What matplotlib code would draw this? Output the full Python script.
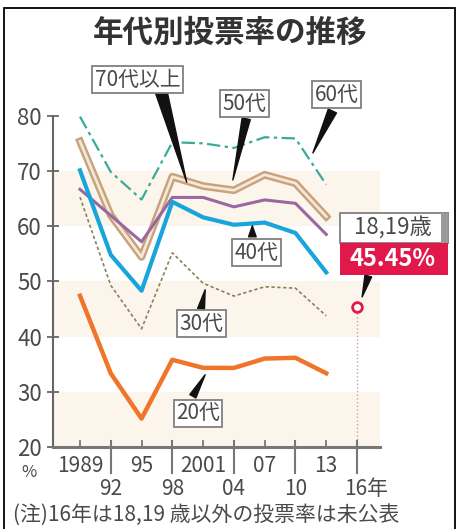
import matplotlib
matplotlib.use("Agg")
import matplotlib.pyplot as plt
from matplotlib.patches import Rectangle

plt.rcParams["font.family"] = ["Noto Sans CJK JP", "DejaVu Sans"]

# 参院選の年代別投票率 (%)
years = [1989, 1992, 1995, 1998, 2001, 2004, 2007, 2010, 2013]
rate_60s = [79.89, 69.87, 64.86, 75.24, 75.05, 74.21, 76.15, 75.93, 67.56]
rate_50s = [75.40, 62.00, 54.45, 69.00, 67.30, 66.54, 69.35, 67.81, 61.77]
rate_70plus = [66.71, 61.96, 57.20, 65.24, 65.24, 63.53, 64.79, 64.17, 58.54]
rate_40s = [70.15, 54.83, 48.32, 64.44, 61.63, 60.28, 60.68, 58.80, 51.66]
rate_30s = [65.29, 49.30, 41.43, 55.20, 49.68, 47.36, 49.05, 48.79, 43.78]
rate_20s = [47.42, 33.35, 25.15, 35.81, 34.35, 34.33, 36.03, 36.17, 33.37]
teen_year = 2016
teen_rate = 45.45

upper_ticks = [1989, 1995, 2001, 2007, 2013]
upper_labels = ["1989", "95", "2001", "07", "13"]
lower_ticks = [1992, 1998, 2004, 2010, 2016]
lower_labels = ["92", "98", "04", "10", "16年"]
y_ticks = [20, 30, 40, 50, 60, 70, 80]

TXT = "#4a4a4a"
W, H = 459, 529

fig = plt.figure(figsize=(W / 100, H / 100), dpi=100)
ax = fig.add_axes([53 / W, 1 - 447 / H, 327 / W, 331 / H])
ax.set_xlim(1986.37, 2018.24)
ax.set_ylim(20, 80)

# 背景の帯
for lo in (20, 40, 60):
    ax.axhspan(lo, lo + 10, color="#fcf5eb", zorder=0, lw=0)

ax.plot(years, rate_60s, color="#3aab99", lw=1.6, ls=(0, (6, 2, 1.5, 2)), zorder=3)
ax.plot(years, rate_50s, color="#c8a27e", lw=5.5, zorder=3, solid_joinstyle="round")
ax.plot(years, rate_50s, color="#f4e8d6", lw=2.0, zorder=3, solid_joinstyle="round")
ax.plot(years, rate_70plus, color="#9a68a0", lw=2.2, zorder=4)
ax.plot(years, rate_40s, color="#17a5dc", lw=3.0, zorder=4)
ax.plot(years, rate_30s, color="#8c7f5c", lw=1.2, ls=(0, (2, 1.5)), zorder=3)
ax.plot(years, rate_20s, color="#f0742a", lw=3.2, zorder=4)

# 18,19歳
ax.plot([teen_year, teen_year], [20, teen_rate], color="#c9a3ab", lw=1, ls=":", zorder=2)
ax.plot([teen_year], [teen_rate], marker="o", ms=7, mfc="white", mec="#e0194a",
        mew=2, zorder=6, clip_on=False)

# 軸
for s in ("top", "right"):
    ax.spines[s].set_visible(False)
ax.spines["left"].set_color("#666666")
ax.spines["left"].set_linewidth(1.5)
ax.spines["bottom"].set_color("#777777")
ax.spines["bottom"].set_linewidth(2.2)
ax.set_yticks(y_ticks)
ax.set_yticklabels([str(v) for v in y_ticks], fontsize=16, color=TXT)
ax.tick_params(axis="y", direction="inout", length=8, width=1.3, color="#666666", pad=4)
ax.set_xticks([])

for yr in upper_ticks:
    ax.plot([yr, yr], [20, 21.1], color="#777777", lw=1.3, clip_on=False, zorder=5)
for yr in lower_ticks:
    ax.plot([yr, yr], [21.0, 15.2], color="#777777", lw=1.5, clip_on=False, zorder=5)
for yr, lab in zip(upper_ticks, upper_labels):
    ax.text(yr, 16.6, lab, ha="center", va="center", fontsize=15, color=TXT)
for yr, lab in zip(lower_ticks, lower_labels):
    if lab.endswith("年"):
        ax.text(yr - 1.25, 12.4, lab, ha="left", va="center", fontsize=15, color=TXT)
    else:
        ax.text(yr, 12.4, lab, ha="center", va="center", fontsize=15, color=TXT)
ax.text(1984.0, 15.3, "%", ha="center", va="center", fontsize=12, color=TXT)

# ラベルと引き出し
box = dict(boxstyle="square,pad=0.12", fc="white", ec="#808080", lw=1.3)
labels = [
    ("70代以上", (1994.6, 86.6), (1996.9, 84.5), (1999.4, 68.0), 0.85),
    ("50代", (2005.0, 82.2), (2005.2, 79.5), (2003.9, 68.4), 0.6),
    ("60代", (2014.0, 83.9), (2013.6, 80.9), (2011.7, 73.3), 0.65),
    ("40代", (2006.2, 55.2), (2005.8, 58.1), (2005.8, 60.1), 0.55),
    ("30代", (2000.8, 42.3), (2000.8, 45.0), (2001.2, 48.5), 0.5),
    ("20代", (2000.5, 26.1), (2000.0, 29.2), (2001.2, 33.1), 0.5),
]
for text, pos, start, tip, tw in labels:
    ax.annotate("", xy=tip, xytext=start, annotation_clip=False, zorder=7,
                arrowprops=dict(arrowstyle=f"wedge,tail_width={tw},shrink_factor=0.5",
                                mutation_scale=10, fc="#111111", ec="#111111",
                                shrinkA=0, shrinkB=0))
    ax.text(pos[0], pos[1], text, ha="center", va="center", fontsize=15,
            color=TXT, bbox=box, zorder=8, clip_on=False)

ax.add_patch(Rectangle((2014.34, 57.0), 10.53, 5.4, fc="white", ec="#808080",
                       lw=1.3, clip_on=False, zorder=8))
ax.add_patch(Rectangle((2024.2, 57.0), 0.7, 5.4, fc="#9a9a9a", ec="none",
                       clip_on=False, zorder=8))
ax.text(2019.5, 59.75, "18,19歳", ha="center", va="center", fontsize=16,
        color=TXT, zorder=9)
ax.add_patch(Rectangle((2014.34, 51.2), 10.53, 5.8, fc="#e0194a", ec="none",
                       clip_on=False, zorder=8))
ax.text(2019.5, 54.1, f"{teen_rate:.2f}%", ha="center", va="center", fontsize=17,
        color="white", fontweight="bold", zorder=9)
ax.annotate("", xy=(2016.5, 47.2), xytext=(2017.1, 51.0), annotation_clip=False,
            zorder=7, arrowprops=dict(arrowstyle="wedge,tail_width=0.5,shrink_factor=0.5",
                                      mutation_scale=10, fc="#111111", ec="#111111",
                                      shrinkA=0, shrinkB=0))

fig.text(230 / W, 1 - 33 / H, "年代別投票率の推移", ha="center", va="center",
         fontsize=22, fontweight="bold", color="#333333")
fig.text(13 / W, 1 - 515 / H, "(注)16年は18,19 歳以外の投票率は未公表",
         ha="left", va="center", fontsize=15, color=TXT)

fig.patches.append(Rectangle((4 / W, -0.02), 451 / W, 1.02 - 8 / H, fill=False,
                             ec="black", lw=1.3, transform=fig.transFigure))

fig.savefig("out.png", dpi=100)
